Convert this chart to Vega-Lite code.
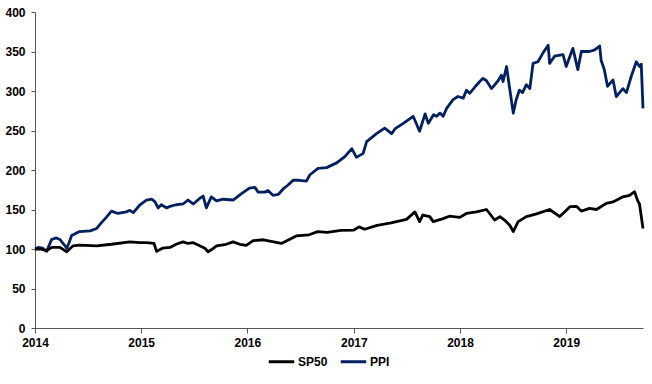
{
  "$schema": "https://vega.github.io/schema/vega-lite/v6.json",
  "width": 608,
  "height": 316,
  "autosize": "none",
  "padding": {"left": 35, "top": 12, "right": 9, "bottom": 56},
  "background": "white",
  "config": {
    "view": {"stroke": null},
    "font": "Liberation Sans",
    "axis": {"labelFont": "Liberation Sans", "labelFontSize": 12, "labelFontWeight": "bold", "labelColor": "#000", "domainColor": "#555", "tickColor": "#555", "grid": false, "title": null},
    "legend": {"labelFont": "Liberation Sans", "labelFontSize": 12, "labelFontWeight": "bold", "labelColor": "#000"}
  },
  "data": {"values": [
    {"date": "2014-01-01", "series": "PPI", "value": 100},
    {"date": "2014-01-12", "series": "PPI", "value": 102},
    {"date": "2014-01-27", "series": "PPI", "value": 101},
    {"date": "2014-02-10", "series": "PPI", "value": 97},
    {"date": "2014-02-27", "series": "PPI", "value": 112},
    {"date": "2014-03-15", "series": "PPI", "value": 114},
    {"date": "2014-03-28", "series": "PPI", "value": 112},
    {"date": "2014-04-10", "series": "PPI", "value": 106},
    {"date": "2014-04-20", "series": "PPI", "value": 101},
    {"date": "2014-04-28", "series": "PPI", "value": 108},
    {"date": "2014-05-07", "series": "PPI", "value": 117},
    {"date": "2014-06-03", "series": "PPI", "value": 122},
    {"date": "2014-07-10", "series": "PPI", "value": 123},
    {"date": "2014-08-01", "series": "PPI", "value": 126},
    {"date": "2014-08-19", "series": "PPI", "value": 134},
    {"date": "2014-09-03", "series": "PPI", "value": 140},
    {"date": "2014-09-21", "series": "PPI", "value": 148},
    {"date": "2014-10-13", "series": "PPI", "value": 145},
    {"date": "2014-11-11", "series": "PPI", "value": 147},
    {"date": "2014-11-23", "series": "PPI", "value": 149},
    {"date": "2014-12-05", "series": "PPI", "value": 146},
    {"date": "2014-12-28", "series": "PPI", "value": 156},
    {"date": "2015-01-19", "series": "PPI", "value": 162},
    {"date": "2015-02-06", "series": "PPI", "value": 163},
    {"date": "2015-02-17", "series": "PPI", "value": 160},
    {"date": "2015-02-28", "series": "PPI", "value": 152},
    {"date": "2015-03-11", "series": "PPI", "value": 156},
    {"date": "2015-03-30", "series": "PPI", "value": 152},
    {"date": "2015-04-10", "series": "PPI", "value": 154},
    {"date": "2015-05-01", "series": "PPI", "value": 156},
    {"date": "2015-05-25", "series": "PPI", "value": 157},
    {"date": "2015-06-11", "series": "PPI", "value": 162},
    {"date": "2015-06-29", "series": "PPI", "value": 157},
    {"date": "2015-07-21", "series": "PPI", "value": 164},
    {"date": "2015-08-02", "series": "PPI", "value": 167},
    {"date": "2015-08-13", "series": "PPI", "value": 152},
    {"date": "2015-08-30", "series": "PPI", "value": 166},
    {"date": "2015-09-17", "series": "PPI", "value": 161},
    {"date": "2015-10-09", "series": "PPI", "value": 163},
    {"date": "2015-11-13", "series": "PPI", "value": 162},
    {"date": "2015-12-12", "series": "PPI", "value": 170},
    {"date": "2016-01-08", "series": "PPI", "value": 177},
    {"date": "2016-01-27", "series": "PPI", "value": 178},
    {"date": "2016-02-07", "series": "PPI", "value": 172},
    {"date": "2016-03-01", "series": "PPI", "value": 172},
    {"date": "2016-03-12", "series": "PPI", "value": 174},
    {"date": "2016-03-29", "series": "PPI", "value": 168},
    {"date": "2016-04-16", "series": "PPI", "value": 169},
    {"date": "2016-05-03", "series": "PPI", "value": 176},
    {"date": "2016-05-20", "series": "PPI", "value": 181},
    {"date": "2016-06-06", "series": "PPI", "value": 187},
    {"date": "2016-06-28", "series": "PPI", "value": 187},
    {"date": "2016-07-22", "series": "PPI", "value": 186},
    {"date": "2016-08-03", "series": "PPI", "value": 194},
    {"date": "2016-08-31", "series": "PPI", "value": 202},
    {"date": "2016-09-29", "series": "PPI", "value": 203},
    {"date": "2016-11-03", "series": "PPI", "value": 209},
    {"date": "2016-12-01", "series": "PPI", "value": 217},
    {"date": "2016-12-25", "series": "PPI", "value": 227},
    {"date": "2017-01-10", "series": "PPI", "value": 216},
    {"date": "2017-02-02", "series": "PPI", "value": 221},
    {"date": "2017-02-14", "series": "PPI", "value": 236},
    {"date": "2017-03-20", "series": "PPI", "value": 246},
    {"date": "2017-04-17", "series": "PPI", "value": 253},
    {"date": "2017-05-11", "series": "PPI", "value": 246},
    {"date": "2017-05-22", "series": "PPI", "value": 252},
    {"date": "2017-06-20", "series": "PPI", "value": 259},
    {"date": "2017-07-24", "series": "PPI", "value": 268},
    {"date": "2017-08-15", "series": "PPI", "value": 249},
    {"date": "2017-09-03", "series": "PPI", "value": 271},
    {"date": "2017-09-14", "series": "PPI", "value": 259},
    {"date": "2017-10-02", "series": "PPI", "value": 270},
    {"date": "2017-10-13", "series": "PPI", "value": 268},
    {"date": "2017-10-24", "series": "PPI", "value": 272},
    {"date": "2017-11-04", "series": "PPI", "value": 268},
    {"date": "2017-11-16", "series": "PPI", "value": 278},
    {"date": "2017-12-08", "series": "PPI", "value": 289},
    {"date": "2017-12-25", "series": "PPI", "value": 293},
    {"date": "2018-01-12", "series": "PPI", "value": 291},
    {"date": "2018-01-23", "series": "PPI", "value": 301},
    {"date": "2018-02-03", "series": "PPI", "value": 297},
    {"date": "2018-02-21", "series": "PPI", "value": 305},
    {"date": "2018-03-10", "series": "PPI", "value": 312},
    {"date": "2018-03-21", "series": "PPI", "value": 316},
    {"date": "2018-04-02", "series": "PPI", "value": 313},
    {"date": "2018-04-19", "series": "PPI", "value": 303},
    {"date": "2018-05-01", "series": "PPI", "value": 308},
    {"date": "2018-05-12", "series": "PPI", "value": 313},
    {"date": "2018-05-23", "series": "PPI", "value": 320},
    {"date": "2018-05-29", "series": "PPI", "value": 312},
    {"date": "2018-06-10", "series": "PPI", "value": 331},
    {"date": "2018-06-18", "series": "PPI", "value": 310},
    {"date": "2018-07-03", "series": "PPI", "value": 272},
    {"date": "2018-07-13", "series": "PPI", "value": 289},
    {"date": "2018-07-24", "series": "PPI", "value": 301},
    {"date": "2018-08-04", "series": "PPI", "value": 298},
    {"date": "2018-08-17", "series": "PPI", "value": 308},
    {"date": "2018-08-29", "series": "PPI", "value": 303},
    {"date": "2018-09-09", "series": "PPI", "value": 335},
    {"date": "2018-09-26", "series": "PPI", "value": 337},
    {"date": "2018-10-13", "series": "PPI", "value": 348},
    {"date": "2018-10-31", "series": "PPI", "value": 358},
    {"date": "2018-11-05", "series": "PPI", "value": 335},
    {"date": "2018-11-22", "series": "PPI", "value": 344},
    {"date": "2018-12-21", "series": "PPI", "value": 346},
    {"date": "2019-01-01", "series": "PPI", "value": 331},
    {"date": "2019-01-24", "series": "PPI", "value": 354},
    {"date": "2019-02-10", "series": "PPI", "value": 327},
    {"date": "2019-02-22", "series": "PPI", "value": 350},
    {"date": "2019-03-22", "series": "PPI", "value": 350},
    {"date": "2019-04-09", "series": "PPI", "value": 352},
    {"date": "2019-04-26", "series": "PPI", "value": 357},
    {"date": "2019-05-01", "series": "PPI", "value": 339},
    {"date": "2019-05-12", "series": "PPI", "value": 327},
    {"date": "2019-05-23", "series": "PPI", "value": 306},
    {"date": "2019-06-11", "series": "PPI", "value": 314},
    {"date": "2019-06-22", "series": "PPI", "value": 293},
    {"date": "2019-07-15", "series": "PPI", "value": 303},
    {"date": "2019-07-27", "series": "PPI", "value": 298},
    {"date": "2019-08-13", "series": "PPI", "value": 319},
    {"date": "2019-08-30", "series": "PPI", "value": 337},
    {"date": "2019-09-10", "series": "PPI", "value": 331},
    {"date": "2019-09-16", "series": "PPI", "value": 334},
    {"date": "2019-09-22", "series": "PPI", "value": 278},
    {"date": "2014-01-01", "series": "SP50", "value": 100},
    {"date": "2014-01-19", "series": "SP50", "value": 100},
    {"date": "2014-02-10", "series": "SP50", "value": 98},
    {"date": "2014-02-28", "series": "SP50", "value": 102},
    {"date": "2014-03-28", "series": "SP50", "value": 102},
    {"date": "2014-04-20", "series": "SP50", "value": 96.5},
    {"date": "2014-05-12", "series": "SP50", "value": 104},
    {"date": "2014-06-03", "series": "SP50", "value": 105},
    {"date": "2014-08-01", "series": "SP50", "value": 104},
    {"date": "2014-09-21", "series": "SP50", "value": 106},
    {"date": "2014-11-23", "series": "SP50", "value": 109},
    {"date": "2014-12-28", "series": "SP50", "value": 108},
    {"date": "2015-01-19", "series": "SP50", "value": 108},
    {"date": "2015-02-14", "series": "SP50", "value": 107},
    {"date": "2015-02-23", "series": "SP50", "value": 97},
    {"date": "2015-03-15", "series": "SP50", "value": 101},
    {"date": "2015-04-10", "series": "SP50", "value": 102},
    {"date": "2015-05-01", "series": "SP50", "value": 106},
    {"date": "2015-05-25", "series": "SP50", "value": 109},
    {"date": "2015-06-11", "series": "SP50", "value": 107},
    {"date": "2015-06-29", "series": "SP50", "value": 108},
    {"date": "2015-07-21", "series": "SP50", "value": 104},
    {"date": "2015-08-08", "series": "SP50", "value": 101},
    {"date": "2015-08-19", "series": "SP50", "value": 96.6},
    {"date": "2015-08-30", "series": "SP50", "value": 99},
    {"date": "2015-09-17", "series": "SP50", "value": 104},
    {"date": "2015-10-20", "series": "SP50", "value": 106},
    {"date": "2015-11-13", "series": "SP50", "value": 109},
    {"date": "2015-12-06", "series": "SP50", "value": 106},
    {"date": "2015-12-28", "series": "SP50", "value": 104.6},
    {"date": "2016-01-21", "series": "SP50", "value": 110.5},
    {"date": "2016-02-25", "series": "SP50", "value": 111.7},
    {"date": "2016-03-18", "series": "SP50", "value": 110},
    {"date": "2016-04-27", "series": "SP50", "value": 107},
    {"date": "2016-06-17", "series": "SP50", "value": 116.5},
    {"date": "2016-07-31", "series": "SP50", "value": 118},
    {"date": "2016-08-30", "series": "SP50", "value": 122},
    {"date": "2016-10-01", "series": "SP50", "value": 121},
    {"date": "2016-11-18", "series": "SP50", "value": 123.6},
    {"date": "2017-01-01", "series": "SP50", "value": 124},
    {"date": "2017-01-19", "series": "SP50", "value": 128},
    {"date": "2017-02-07", "series": "SP50", "value": 125},
    {"date": "2017-03-22", "series": "SP50", "value": 130},
    {"date": "2017-05-09", "series": "SP50", "value": 133},
    {"date": "2017-07-01", "series": "SP50", "value": 137.5},
    {"date": "2017-07-30", "series": "SP50", "value": 147},
    {"date": "2017-08-15", "series": "SP50", "value": 134.6},
    {"date": "2017-08-26", "series": "SP50", "value": 143},
    {"date": "2017-09-19", "series": "SP50", "value": 141},
    {"date": "2017-10-01", "series": "SP50", "value": 134.6},
    {"date": "2017-11-04", "series": "SP50", "value": 138.5},
    {"date": "2017-11-25", "series": "SP50", "value": 141.5},
    {"date": "2017-12-31", "series": "SP50", "value": 140},
    {"date": "2018-01-23", "series": "SP50", "value": 145},
    {"date": "2018-02-27", "series": "SP50", "value": 147},
    {"date": "2018-04-02", "series": "SP50", "value": 150},
    {"date": "2018-04-30", "series": "SP50", "value": 136.7},
    {"date": "2018-05-18", "series": "SP50", "value": 141},
    {"date": "2018-06-03", "series": "SP50", "value": 136.7},
    {"date": "2018-06-21", "series": "SP50", "value": 130},
    {"date": "2018-07-03", "series": "SP50", "value": 122},
    {"date": "2018-07-20", "series": "SP50", "value": 134.6},
    {"date": "2018-08-17", "series": "SP50", "value": 141},
    {"date": "2018-09-21", "series": "SP50", "value": 144.5},
    {"date": "2018-11-05", "series": "SP50", "value": 150},
    {"date": "2018-12-10", "series": "SP50", "value": 141},
    {"date": "2019-01-14", "series": "SP50", "value": 153.6},
    {"date": "2019-02-05", "series": "SP50", "value": 154},
    {"date": "2019-02-22", "series": "SP50", "value": 148},
    {"date": "2019-03-22", "series": "SP50", "value": 151.5},
    {"date": "2019-04-15", "series": "SP50", "value": 150},
    {"date": "2019-05-19", "series": "SP50", "value": 157.8},
    {"date": "2019-06-11", "series": "SP50", "value": 159.6},
    {"date": "2019-07-15", "series": "SP50", "value": 166},
    {"date": "2019-08-07", "series": "SP50", "value": 168},
    {"date": "2019-08-24", "series": "SP50", "value": 172.5},
    {"date": "2019-09-04", "series": "SP50", "value": 161},
    {"date": "2019-09-10", "series": "SP50", "value": 157},
    {"date": "2019-09-22", "series": "SP50", "value": 126}
  ]},
  "mark": {"type": "line", "strokeWidth": 2.8, "strokeJoin": "round"},
  "encoding": {
    "x": {
      "field": "date", "type": "temporal",
      "scale": {"type": "utc", "nice": false},
      "axis": {"format": "%Y", "formatType": "utc", "tickCount": {"interval": "year", "step": 1}, "tickSize": 5, "labelPadding": 4, "labelFlush": false, "labelOverlap": false}
    },
    "y": {
      "field": "value", "type": "quantitative",
      "scale": {"domain": [0, 400], "nice": false},
      "axis": {"values": [0, 50, 100, 150, 200, 250, 300, 350, 400], "tickSize": 4, "labelPadding": 6}
    },
    "color": {
      "field": "series", "type": "nominal",
      "scale": {"domain": ["SP50", "PPI"], "range": ["#000000", "#002060"]},
      "legend": {"orient": "none", "legendX": 232, "legendY": 335, "direction": "horizontal", "title": null, "symbolType": "stroke", "symbolSize": 650, "symbolStrokeWidth": 3, "labelOffset": 2, "columnPadding": 6}
    },
    "order": {"field": "date", "type": "temporal"}
  }
}
